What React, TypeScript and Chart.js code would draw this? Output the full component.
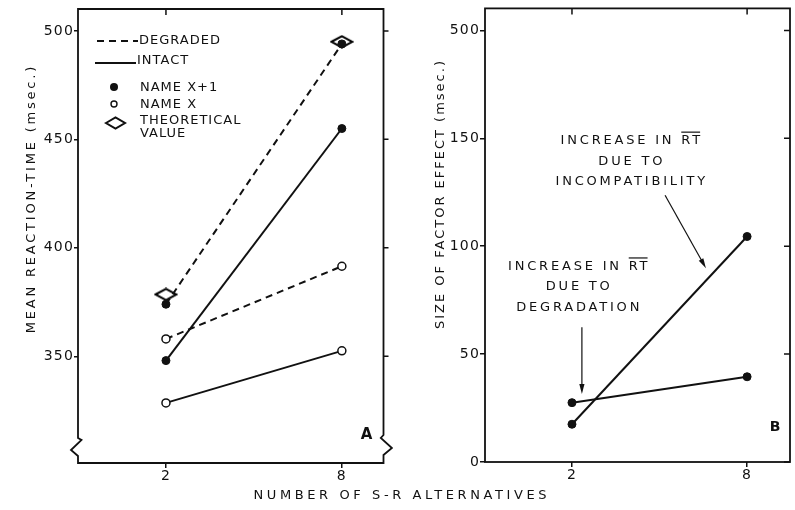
import React, { useEffect, useRef } from 'react';
import { Chart, registerables } from 'chart.js';

Chart.register(...registerables);

const FONT = '"DejaVu Sans", sans-serif';
const INK = '#111';

// ---------- shared x axis ----------
const xValues = [2, 8];
const xTickLabels = ['2', '8'];

// ---------- panel A: mean reaction time ----------
const degradedNameX1 = [374, 494];
const degradedNameX = [358, 391.5];
const intactNameX1 = [348, 455];
const intactNameX = [328.5, 352.5];
const theoreticalValue = [378.5, 495];
const panelAYTicks = [350, 400, 450, 500];
const panelAYTickLabels = ['350', '400', '450', '500'];

// ---------- panel B: size of factor effect ----------
const degradationEffect = [27.5, 39.5];
const incompatibilityEffect = [17.5, 104.5];
const panelBYTicks = [0, 50, 100, 150, 200];
const panelBYTickLabels = ['0', '50', '100', '150', '500'];

// annotation anchors in data units of panel B
const incompatText = ['INCREASE IN RT', 'DUE TO', 'INCOMPATIBILITY'];
const incompatTextX = 4.0;
const incompatTextY = [149.5, 139.8, 130.6];
const incompatArrow = [{ x: 5.19, y: 123.6 }, { x: 6.59, y: 89.8 }];
const degradText = ['INCREASE IN RT', 'DUE TO', 'DEGRADATION'];
const degradTextX = 2.2;
const degradTextY = [91.2, 81.9, 72.2];
const degradArrow = [{ x: 2.34, y: 62.5 }, { x: 2.34, y: 31.5 }];

const pts = (ys: number[]) => xValues.map((x, i) => ({ x, y: ys[i] }));

function drawText(
  ctx: CanvasRenderingContext2D,
  text: string,
  x: number,
  yCenter: number,
  size: number,
  ls: number,
  align: 'left' | 'center' | 'right',
  bold = false
) {
  ctx.font = `${bold ? 'bold ' : ''}${size}px ${FONT}`;
  (ctx as any).letterSpacing = `${ls}px`;
  const w = ctx.measureText(text).width - ls;
  const x0 = align === 'left' ? x : align === 'center' ? x - w / 2 : x - w;
  ctx.textAlign = 'left';
  ctx.textBaseline = 'alphabetic';
  ctx.fillStyle = INK;
  const base = yCenter + (size * 0.729) / 2;
  ctx.fillText(text, x0, base);
  return { x0, w, base };
}

function makeDiamond() {
  const c = document.createElement('canvas');
  c.width = 24;
  c.height = 14;
  const g = c.getContext('2d')!;
  g.strokeStyle = '#000';
  g.lineWidth = 2;
  g.beginPath();
  g.moveTo(1.5, 7);
  g.lineTo(12, 1.3);
  g.lineTo(22.5, 7);
  g.lineTo(12, 12.7);
  g.closePath();
  g.stroke();
  return c;
}

function xScale(min: number, max: number, height: number) {
  return {
    type: 'linear',
    min,
    max,
    afterBuildTicks: (s: any) => {
      s.ticks = xValues.map((v) => ({ value: v }));
    },
    afterFit: (s: any) => {
      s.height = height;
    },
    ticks: {
      autoSkip: false,
      maxRotation: 0,
      padding: 0,
      color: INK,
      font: { family: FONT, size: 14 },
      callback: (v: any) => {
        const i = xValues.indexOf(Number(v));
        return i >= 0 ? xTickLabels[i] : '';
      },
    },
    grid: { drawOnChartArea: false, drawTicks: true, tickLength: 5, color: INK, lineWidth: 1.5 },
    border: { display: false },
  };
}

function yScale(min: number, max: number, width: number, values: number[], labels: string[], tl: number) {
  return {
    type: 'linear',
    min,
    max,
    afterBuildTicks: (s: any) => {
      s.ticks = values.map((v) => ({ value: v }));
    },
    afterFit: (s: any) => {
      s.width = width;
    },
    ticks: {
      autoSkip: false,
      padding: 0,
      color: INK,
      font: { family: FONT, size: 14 },
      callback: (v: any) => {
        const i = values.indexOf(Number(v));
        return i >= 0 ? labels[i] : '';
      },
    },
    grid: { drawOnChartArea: false, drawTicks: true, tickLength: tl, color: INK, lineWidth: 1.5 },
    border: { display: false },
  };
}

function mirrorTicks(chart: any, rightLen: number, topLen: number) {
  const { ctx, chartArea, scales } = chart;
  ctx.save();
  ctx.strokeStyle = INK;
  ctx.lineWidth = 1.5;
  ctx.beginPath();
  scales.y.ticks.forEach((t: any) => {
    const py = scales.y.getPixelForValue(t.value);
    ctx.moveTo(chartArea.right, py);
    ctx.lineTo(chartArea.right + rightLen, py);
  });
  scales.x.ticks.forEach((t: any) => {
    const px = scales.x.getPixelForValue(t.value);
    ctx.moveTo(px, chartArea.top);
    ctx.lineTo(px, chartArea.top + topLen);
  });
  ctx.stroke();
  ctx.restore();
}

const letterSpacingPlugin = {
  id: 'ls',
  beforeDraw: (chart: any) => {
    chart.ctx.letterSpacing = '1.2px';
  },
};

const panelAPlugin = {
  id: 'panelA',
  afterDraw: (chart: any) => {
    const { ctx, chartArea } = chart;
    const { left: l, right: r, top: t, bottom: b } = chartArea;
    ctx.save();
    // frame with broken-axis marks
    ctx.strokeStyle = INK;
    ctx.lineWidth = 1.8;
    ctx.lineJoin = 'miter';
    ctx.beginPath();
    ctx.moveTo(l, t);
    ctx.lineTo(r, t);
    ctx.lineTo(r, b - 28);
    ctx.lineTo(r - 2.7, b - 25);
    ctx.lineTo(r + 8.4, b - 15);
    ctx.lineTo(r, b - 8);
    ctx.lineTo(r, b);
    ctx.lineTo(l, b);
    ctx.lineTo(l, b - 7);
    ctx.lineTo(l - 7, b - 13);
    ctx.lineTo(l + 3.5, b - 23);
    ctx.lineTo(l, b - 25);
    ctx.closePath();
    ctx.stroke();
    ctx.restore();
    mirrorTicks(chart, 5, 6);

    ctx.save();
    // legend
    ctx.strokeStyle = INK;
    ctx.lineWidth = 2;
    ctx.setLineDash([7, 5]);
    ctx.beginPath();
    ctx.moveTo(97, 41);
    ctx.lineTo(138, 41);
    ctx.stroke();
    ctx.setLineDash([]);
    ctx.beginPath();
    ctx.moveTo(95, 63);
    ctx.lineTo(136, 63);
    ctx.stroke();
    drawText(ctx, 'DEGRADED', 139, 39, 13, 1, 'left');
    drawText(ctx, 'INTACT', 137, 59, 13, 1, 'left');
    ctx.fillStyle = INK;
    ctx.beginPath();
    ctx.arc(114, 87, 4, 0, Math.PI * 2);
    ctx.fill();
    ctx.lineWidth = 1.4;
    ctx.beginPath();
    ctx.arc(114, 104, 3, 0, Math.PI * 2);
    ctx.stroke();
    ctx.lineWidth = 2;
    ctx.beginPath();
    ctx.moveTo(106, 123);
    ctx.lineTo(115.5, 117.5);
    ctx.lineTo(125, 123);
    ctx.lineTo(115.5, 128.5);
    ctx.closePath();
    ctx.stroke();
    drawText(ctx, 'NAME X+1', 140, 86, 13, 1, 'left');
    drawText(ctx, 'NAME X', 140, 103, 13, 1, 'left');
    drawText(ctx, 'THEORETICAL', 140, 119, 13, 1, 'left');
    drawText(ctx, 'VALUE', 140, 132, 13, 1, 'left');

    drawText(ctx, 'A', r - 17, b - 29, 15, 0, 'center', true);

    // y title
    ctx.save();
    ctx.translate(30, 200);
    ctx.rotate(-Math.PI / 2);
    drawText(ctx, 'MEAN REACTION-TIME (msec.)', 0, 0, 13, 2.8, 'center');
    ctx.restore();

    // shared x title
    drawText(ctx, 'NUMBER OF S-R ALTERNATIVES', 400, 494, 13, 3.6, 'center');
    ctx.restore();
  },
};

function arrow(ctx: CanvasRenderingContext2D, x1: number, y1: number, x2: number, y2: number) {
  const ang = Math.atan2(y2 - y1, x2 - x1);
  const hl = 10;
  const hw = 2.6;
  ctx.beginPath();
  ctx.moveTo(x1, y1);
  ctx.lineTo(x2 - Math.cos(ang) * hl * 0.6, y2 - Math.sin(ang) * hl * 0.6);
  ctx.stroke();
  ctx.beginPath();
  ctx.moveTo(x2, y2);
  ctx.lineTo(x2 - Math.cos(ang) * hl + Math.sin(ang) * hw, y2 - Math.sin(ang) * hl - Math.cos(ang) * hw);
  ctx.lineTo(x2 - Math.cos(ang) * hl - Math.sin(ang) * hw, y2 - Math.sin(ang) * hl + Math.cos(ang) * hw);
  ctx.closePath();
  ctx.fill();
}

function annotationBlock(ctx: CanvasRenderingContext2D, chart: any, lines: string[], x: number, ys: number[]) {
  const sx = chart.scales.x;
  const sy = chart.scales.y;
  const cx = sx.getPixelForValue(x);
  const ls = 2.8;
  lines.forEach((txt, i) => {
    const cy = sy.getPixelForValue(ys[i]);
    const res = drawText(ctx, txt, cx, cy, 13, ls, 'center');
    if (i === 0 && txt.endsWith('RT')) {
      const pre = ctx.measureText(txt.slice(0, txt.length - 2)).width;
      const rtw = ctx.measureText('RT').width - ls;
      const oy = res.base - 13 * 0.729 - 2.5;
      ctx.beginPath();
      ctx.lineWidth = 1.2;
      ctx.moveTo(res.x0 + pre, oy);
      ctx.lineTo(res.x0 + pre + rtw, oy);
      ctx.stroke();
    }
  });
}

const panelBPlugin = {
  id: 'panelB',
  afterDraw: (chart: any) => {
    const { ctx, chartArea, scales } = chart;
    const { left: l, right: r, top: t, bottom: b } = chartArea;
    ctx.save();
    ctx.strokeStyle = INK;
    ctx.lineWidth = 1.8;
    ctx.strokeRect(l, t, r - l, b - t);
    ctx.restore();
    mirrorTicks(chart, -6, 6);

    ctx.save();
    ctx.strokeStyle = INK;
    ctx.fillStyle = INK;
    annotationBlock(ctx, chart, incompatText, incompatTextX, incompatTextY);
    annotationBlock(ctx, chart, degradText, degradTextX, degradTextY);
    ctx.lineWidth = 1.2;
    const px = (p: { x: number; y: number }) => [scales.x.getPixelForValue(p.x), scales.y.getPixelForValue(p.y)];
    const [a1x, a1y] = px(incompatArrow[0]);
    const [a2x, a2y] = px(incompatArrow[1]);
    arrow(ctx, a1x, a1y, a2x, a2y);
    const [d1x, d1y] = px(degradArrow[0]);
    const [d2x, d2y] = px(degradArrow[1]);
    arrow(ctx, d1x, d1y, d2x, d2y);

    drawText(ctx, 'B', r - 15, b - 36, 14, 0, 'center', true);

    ctx.save();
    ctx.translate(439, 195);
    ctx.rotate(-Math.PI / 2);
    drawText(ctx, 'SIZE OF FACTOR EFFECT (msec.)', 0, 0, 13, 2.0, 'center');
    ctx.restore();
    ctx.restore();
  },
};

const lineDs = (label: string, ys: number[], dashed: boolean, filled: boolean) => ({
  label,
  data: pts(ys),
  borderColor: INK,
  borderWidth: 2,
  borderDash: dashed ? [7, 5] : [],
  pointRadius: 4,
  pointBackgroundColor: filled ? INK : '#fff',
  pointBorderColor: INK,
  pointBorderWidth: filled ? 1 : 1.5,
  fill: false,
  tension: 0,
});

function configA(): any {
  return {
    type: 'line',
    data: {
      datasets: [
        lineDs('Degraded, Name X', degradedNameX, true, false),
        lineDs('Intact, Name X', intactNameX, false, false),
        lineDs('Intact, Name X+1', intactNameX1, false, true),
        lineDs('Degraded, Name X+1', degradedNameX1, true, true),
        {
          label: 'Theoretical value',
          data: pts(theoreticalValue),
          showLine: false,
          pointStyle: makeDiamond(),
          pointRadius: 8,
          borderColor: INK,
          backgroundColor: 'transparent',
        },
      ],
    },
    options: {
      animation: false,
      responsive: false,
      layout: { padding: { left: 0, right: 411.5, top: 8, bottom: 0 } },
      plugins: { legend: { display: false }, tooltip: { enabled: false } },
      scales: {
        x: xScale(-1, 9.42, 47),
        y: yScale(300.8, 510.1, 78, panelAYTicks, panelAYTickLabels, 4),
      },
    },
    plugins: [letterSpacingPlugin, panelAPlugin],
  };
}

function configB(): any {
  return {
    type: 'line',
    data: {
      datasets: [
        lineDs('Degradation effect', degradationEffect, false, true),
        lineDs('Incompatibility effect', incompatibilityEffect, false, true),
      ],
    },
    options: {
      animation: false,
      responsive: false,
      layout: { padding: { left: 400, right: 5, top: 8, bottom: 0 } },
      plugins: { legend: { display: false }, tooltip: { enabled: false } },
      scales: {
        x: xScale(-0.98, 9.47, 48),
        y: yScale(0, 210.2, 85, panelBYTicks, panelBYTickLabels, 5),
      },
    },
    plugins: [letterSpacingPlugin, panelBPlugin],
  };
}

export default function App() {
  const refA = useRef<HTMLCanvasElement>(null);
  const refB = useRef<HTMLCanvasElement>(null);
  useEffect(() => {
    const a = new Chart(refA.current as HTMLCanvasElement, configA());
    const b = new Chart(refB.current as HTMLCanvasElement, configB());
    return () => {
      a.destroy();
      b.destroy();
    };
  }, []);
  const cs: React.CSSProperties = { position: 'absolute', left: 0, top: 0, width: 795, height: 510 };
  return (
    <div style={{ position: 'fixed', left: 0, top: 0, width: 795, height: 510, background: '#fff' }}>
      <canvas ref={refA} width={795} height={510} style={cs} />
      <canvas ref={refB} width={795} height={510} style={cs} />
    </div>
  );
}
